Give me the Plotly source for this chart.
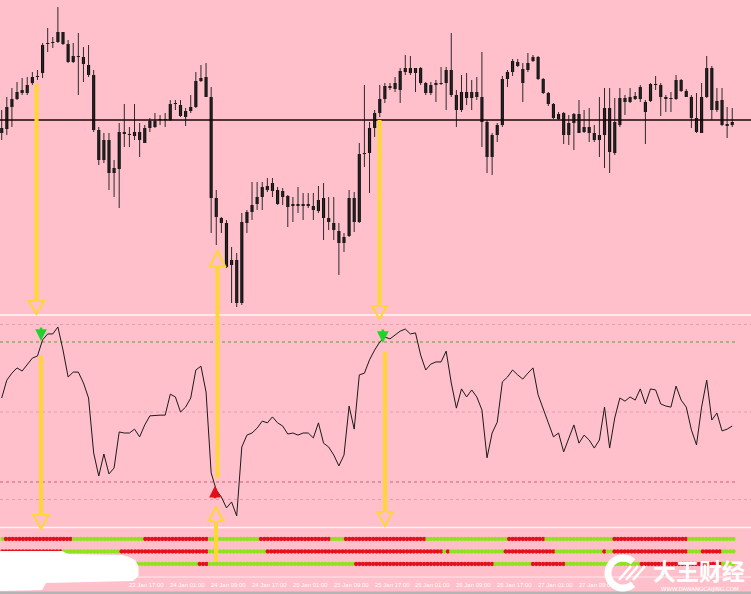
import math
import plotly.graph_objects as go

W, H = 751, 594

# ---------------- data (H1 candles, arbitrary price points) ----------------
open_ = [187,191,213,221,227,227,237,243,247,276,
         277,278,288,276,264,263,263,255,245,190,
         160,180,152,151,186,186,184,188,177,192,
         193,200,201,200,216,215,209,209,213,239,
         243,223,122,102,97,55,60,17,97,108,
         116,123,130,129,130,123,124,116,114,116,
         114,114,109,122,102,97,89,77,84,122,
         98,166,167,192,207,221,232,231,230,248,
         252,247,252,237,227,235,237,237,250,225,
         210,222,228,223,223,198,163,185,195,241,
         248,258,251,250,259,263,241,227,216,201,
         207,185,197,206,188,193,187,180,185,212,
         167,195,218,218,221,221,218,219,236,235,
         223,221,221,240,229,223,202,187,223,252,
         210,220,196,195]
close = [192,213,221,228,230,235,243,244,275,277,
         278,288,276,258,258,264,256,245,190,160,
         180,147,147,188,188,185,188,180,192,199,
         199,201,200,216,217,204,203,213,239,242,
         223,122,103,97,53,60,17,98,108,115,
         123,133,134,137,116,129,113,114,116,114,
         116,110,120,102,98,90,77,83,122,98,
         166,167,192,207,221,234,234,237,249,252,
         247,252,237,227,235,237,236,250,225,210,
         228,228,222,228,198,163,185,195,241,248,
         259,254,237,257,263,241,227,216,202,206,
         185,197,206,187,193,187,180,185,212,168,
         198,222,222,223,224,233,208,236,235,223,
         221,222,240,229,223,202,188,223,252,210,
         219,195,194,198]
high = [210,223,232,238,242,243,248,250,277,292,
        283,313,288,280,277,287,273,275,250,193,
        187,187,160,197,216,193,216,197,195,202,
        207,205,207,220,220,220,212,225,248,255,
        257,233,130,103,100,73,67,107,110,138,
        138,138,142,142,133,132,125,123,133,127,
        127,127,134,137,123,123,97,87,130,128,
        177,235,198,210,235,237,237,243,252,265,
        264,252,253,238,238,240,253,253,287,230,
        245,247,240,243,268,200,187,197,244,250,
        261,261,257,267,265,264,242,228,217,208,
        208,205,207,220,210,212,195,223,232,232,
        222,232,225,232,228,235,220,237,244,237,
        225,228,245,241,231,225,227,237,264,254,
        232,232,213,212]
low = [180,185,193,220,225,225,235,240,242,268,
       272,277,275,257,257,225,238,243,188,155,
       157,130,123,112,173,173,180,163,177,188,
       192,195,193,199,210,203,194,207,212,238,
       223,87,75,87,52,17,13,15,87,100,
       110,110,128,123,115,115,93,98,107,100,
       112,100,107,80,90,80,45,68,83,88,
       97,153,127,183,203,217,230,228,217,245,
       245,228,235,225,225,218,235,210,223,193,
       208,215,210,220,173,147,145,178,193,233,
       244,253,218,248,258,240,226,214,201,200,
       176,175,170,187,187,178,178,163,152,147,
       165,193,205,217,220,218,176,218,230,204,
       208,208,220,228,223,192,187,187,222,200,
       208,194,182,193]
ref_level = 200  # horizontal black line in price panel

# oscillator (RSI-like)
osc = [54.0,59.1,61.1,62.6,61.7,63.4,65.4,66.0,70.6,72.3,
       72.3,74.3,67.7,60.0,61.4,61.4,58.3,54.0,38.3,31.7,
       38.0,32.3,34.0,44.3,44.0,44.0,45.1,42.9,46.3,48.9,
       49.1,49.1,49.1,55.1,54.3,50.0,51.4,54.0,62.0,63.1,
       55.7,32.6,27.7,25.7,22.6,24.3,20.3,40.0,43.4,44.0,
       45.4,47.4,46.9,48.6,46.9,46.0,43.7,44.0,43.4,44.0,
       44.0,42.6,46.9,41.1,40.0,37.7,34.6,37.7,51.7,45.1,
       60.6,61.1,64.9,67.7,70.0,71.4,70.9,72.0,73.1,73.7,
       72.3,72.6,66.3,62.0,63.7,64.3,64.3,67.4,58.3,51.1,
       56.6,54.3,56.3,54.3,50.6,36.9,44.0,47.1,58.6,60.0,
       62.0,60.6,59.4,61.1,62.6,54.9,50.6,46.9,42.9,44.0,
       38.6,42.6,46.3,41.1,43.4,42.0,39.7,42.0,51.4,39.7,
       48.3,54.0,53.1,54.3,53.4,56.6,52.3,56.6,56.3,52.3,
       51.7,51.4,57.4,53.4,51.4,44.9,40.6,51.4,59.1,47.7,
       49.7,44.6,45.1,46.0]
osc_levels_faint = [75, 50, 25]
osc_level_hi = 70
osc_level_lo = 30
sell_sig_x = [7.7, 74.6]
sell_sig_y = [70.3, 69.7]
buy_sig_x = [41.75]
buy_sig_y = [28.9]

# signal dot rows (run lengths: colour, count)
row1_runs = [('G',1),('R',20),('G',21),('R',19),('G',15),('R',21),('G',4),('R',24),
             ('G',24),('R',11),('G',20),('R',22),('G',14)]
row2_runs = [('R',18),('G',17),('R',26),('G',17),('R',52),('G',1),('R',1),('G',16),
             ('R',15),('G',14),('R',1),('G',2),('R',22),('G',4),('R',6),('G',4)]
row3_runs = [('G',58),('R',3),('G',43),('R',41),('G',11),('R',10),('G',22),('R',24),('G',4)]

time_idx = [24, 32, 40, 48, 56, 64, 72, 80, 88, 96, 104, 112]
time_labels = ["23 Jan 17:00", "24 Jan 01:00", "24 Jan 09:00", "24 Jan 17:00",
               "25 Jan 01:00", "25 Jan 09:00", "25 Jan 17:00", "26 Jan 01:00",
               "26 Jan 09:00", "26 Jan 17:00", "27 Jan 01:00", "27 Jan 09:00"]

# ---------------- styling ----------------
BG = '#FFC0CB'
DOT_COLORS = {'R': '#E4101C', 'G': '#8EE31E'}
YEL = '#FFD633'

def px(x):
    return x / W

def py(y):
    return 1 - y / H

N = len(open_)
xs = list(range(N))

fig = go.Figure()

# wicks
wx, wy = [], []
for i in xs:
    wx += [i, i, None]
    wy += [low[i], high[i], None]
fig.add_trace(go.Scatter(x=wx, y=wy, mode='lines', line=dict(color='#2a2a2a', width=1),
                         xaxis='x', yaxis='y', hoverinfo='skip', showlegend=False))
# bodies
base = [min(o, c) for o, c in zip(open_, close)]
hgt = [max(abs(c - o), 1) for o, c in zip(open_, close)]
fig.add_trace(go.Bar(x=xs, y=hgt, base=base, width=0.62,
                     marker=dict(color='#111111', line=dict(width=0)),
                     xaxis='x', yaxis='y', showlegend=False, hoverinfo='skip'))

# oscillator
fig.add_trace(go.Scatter(x=xs, y=osc, mode='lines', line=dict(color='#1a1a1a', width=1),
                         xaxis='x', yaxis='y2', showlegend=False, hoverinfo='skip'))

# dot rows
def expand(runs):
    cols = []
    for c, n in runs:
        cols += [DOT_COLORS[c]] * n
    return cols

for rv, runs in [(3, row1_runs), (2, row2_runs), (1, row3_runs)]:
    cols = expand(runs)
    fig.add_trace(go.Scatter(x=list(range(len(cols))), y=[rv] * len(cols), mode='markers',
                             marker=dict(color=cols, size=4.3, line=dict(width=0)),
                             xaxis='x2', yaxis='y3', showlegend=False, hoverinfo='skip'))

shapes = []
# reference line in price panel
shapes.append(dict(type='line', xref='paper', yref='y', x0=0, x1=1, y0=ref_level, y1=ref_level,
                   line=dict(color='#1a0505', width=1.3), layer='above'))
# oscillator levels
for lv in osc_levels_faint:
    shapes.append(dict(type='line', xref='paper', yref='y2', x0=0, x1=1, y0=lv, y1=lv,
                       line=dict(color='#E79AAE', width=1, dash='dot'), layer='below'))
shapes.append(dict(type='line', xref='paper', yref='y2', x0=0, x1=px(735), y0=osc_level_hi, y1=osc_level_hi,
                   line=dict(color='#5E9B3A', width=1, dash='dot'), layer='below'))
shapes.append(dict(type='line', xref='paper', yref='y2', x0=0, x1=px(735), y0=osc_level_lo, y1=osc_level_lo,
                   line=dict(color='#C8646A', width=1, dash='dot'), layer='below'))
# panel separators
for yy, col, wd in [(315, '#FFF4F6', 1.6), (527.5, '#FFF4F6', 1.6), (577, '#FFE6EB', 1)]:
    shapes.append(dict(type='line', xref='paper', yref='paper', x0=0, x1=1, y0=py(yy), y1=py(yy),
                       line=dict(color=col, width=wd), layer='above'))
# bottom grey border
shapes.append(dict(type='rect', xref='paper', yref='paper', x0=0, x1=1, y0=0, y1=py(591.5),
                   fillcolor='#B4B4B4', line=dict(width=0), layer='above'))

# yellow arrows
def arrow(x, y_tail, y_base, y_tip, hw=7.5):
    shapes.append(dict(type='line', xref='paper', yref='paper', x0=px(x), x1=px(x),
                       y0=py(y_tail), y1=py(y_base), line=dict(color=YEL, width=4), layer='above'))
    path = 'M {},{} L {},{} L {},{} L {},{} L {},{}'.format(
        px(x - 2), py(y_base), px(x - hw), py(y_base), px(x), py(y_tip),
        px(x + hw), py(y_base), px(x + 2), py(y_base))
    shapes.append(dict(type='path', xref='paper', yref='paper', path=path,
                       line=dict(color=YEL, width=2), layer='above'))

arrow(36.5, 83, 301, 314)
arrow(41, 355, 515, 529)
arrow(379.5, 120, 306, 319)
arrow(385, 352, 512, 526)
arrow(217.5, 477, 266, 251)
arrow(216, 562, 521, 507)

# white blob (bottom-left)
blob = [(0, 551), (62, 551), (68, 554), (122, 555), (129, 557), (135, 560), (138.5, 566),
        (138.5, 576), (133, 581), (46, 583), (42, 590), (0, 591)]
bpath = 'M ' + ' L '.join('{},{}'.format(px(a), py(b)) for a, b in blob) + ' Z'
shapes.append(dict(type='path', xref='paper', yref='paper', path=bpath,
                   fillcolor='white', line=dict(width=0), layer='above'))

# watermark logo: open ring "C" with stripes
cx, cy, rr = 623, 573, 15
ring = []
for k in range(0, 41):
    t = math.radians(48 + k * (264 / 40))
    ring.append((cx + rr * math.cos(t), cy - rr * math.sin(t)))
rpath = 'M ' + ' L '.join('{},{}'.format(px(a), py(b)) for a, b in ring)
shapes.append(dict(type='path', xref='paper', yref='paper', path=rpath,
                   line=dict(color='white', width=7), layer='above'))
for (a0, b0, a1, b1) in [(619, 580, 631, 566), (626, 580, 638, 566), (633, 580, 645, 566)]:
    shapes.append(dict(type='line', xref='paper', yref='paper', x0=px(a0), y0=py(b0), x1=px(a1), y1=py(b1),
                       line=dict(color='white', width=2.5), layer='above'))

annotations = []
# signal arrows
for xv, yv in zip(sell_sig_x, sell_sig_y):
    annotations.append(dict(x=xv, y=yv, xref='x', yref='y2', text='', showarrow=True,
                            ax=0, ay=-15, arrowhead=2, arrowsize=0.9, arrowwidth=2.6,
                            arrowcolor='#22D22A'))
for xv, yv in zip(buy_sig_x, buy_sig_y):
    annotations.append(dict(x=xv, y=yv, xref='x', yref='y2', text='', showarrow=True,
                            ax=0, ay=14, arrowhead=2, arrowsize=0.9, arrowwidth=2.6,
                            arrowcolor='#E0101A'))
# time labels
for ti, tl in zip(time_idx, time_labels):
    annotations.append(dict(x=ti, y=py(584.5), xref='x', yref='paper', text=tl, showarrow=False,
                            xanchor='left', yanchor='middle', xshift=3,
                            font=dict(family='Liberation Sans', size=6, color='rgba(255,255,255,0.95)')))
# watermark text
annotations.append(dict(x=px(699), y=py(570), xref='paper', yref='paper', text='<b>大王财经</b>',
                        showarrow=False, xanchor='center', yanchor='middle',
                        font=dict(family='Noto Sans CJK SC', size=23, color='white')))
annotations.append(dict(x=px(700), y=py(589), xref='paper', yref='paper', text='WWW.DAWANGCAIJING.COM',
                        showarrow=False, xanchor='center', yanchor='middle',
                        font=dict(family='DejaVu Sans', size=5.5, color='white')))

fig.update_layout(
    width=W, height=H, margin=dict(l=0, r=0, t=0, b=0),
    paper_bgcolor=BG, plot_bgcolor=BG, showlegend=False,
    xaxis=dict(range=[-0.333, 146.67], visible=False, domain=[0, 1], anchor='y'),
    xaxis2=dict(range=[-0.735, 220.15], visible=False, domain=[0, 1], anchor='y3'),
    yaxis=dict(domain=[py(315), 1], range=[5, 320], visible=False),
    yaxis2=dict(domain=[py(527), py(316)], range=[17.14, 77.43], visible=False, anchor='x'),
    yaxis3=dict(domain=[0, py(528)], range=[-1.4, 3.88], visible=False, anchor='x2'),
    shapes=shapes, annotations=annotations,
)

fig.write_html("out.html", config={'displayModeBar': False},
               post_script="document.body.style.margin='0';document.body.style.overflow='hidden';")
